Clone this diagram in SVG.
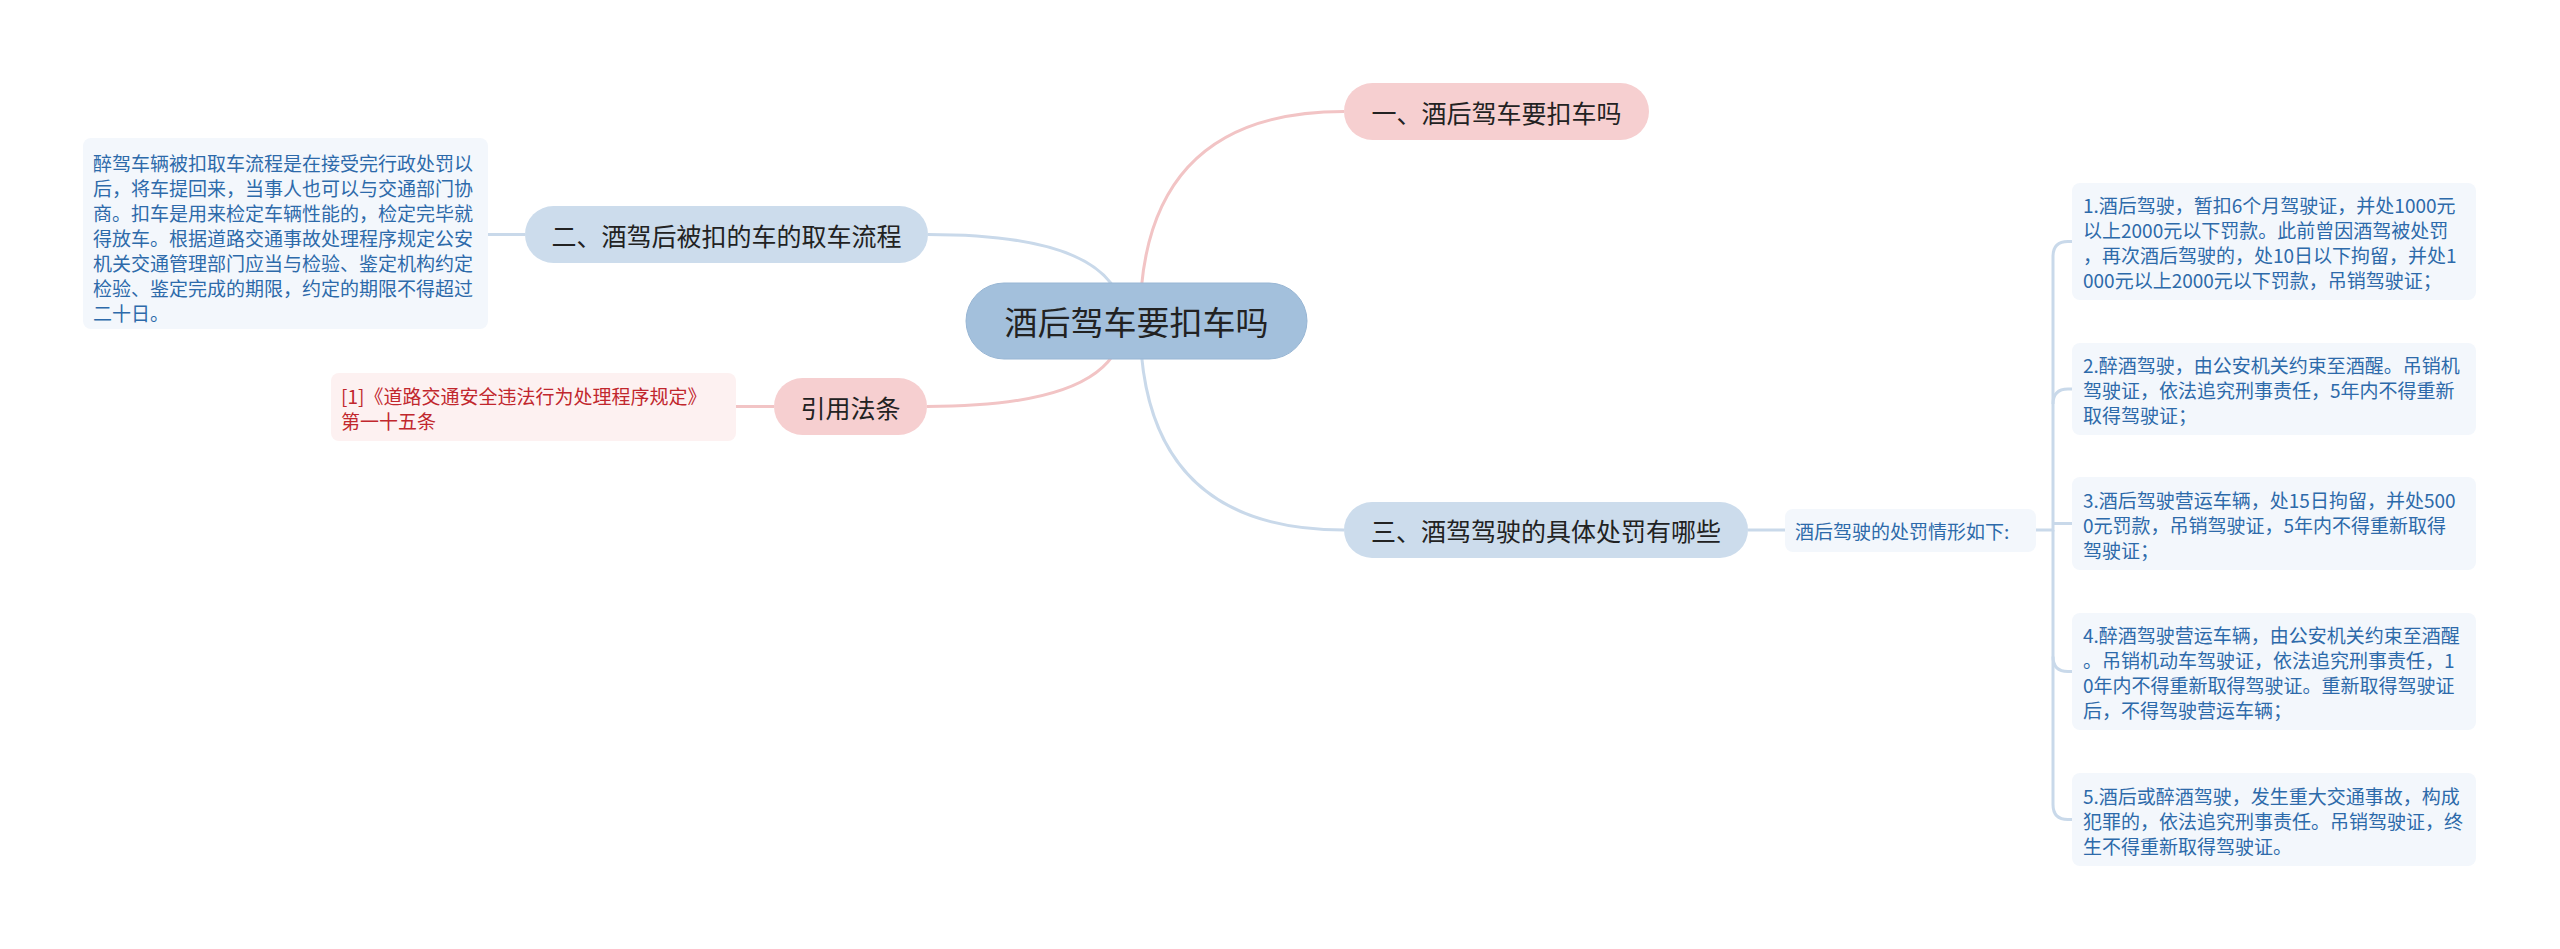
<svg xmlns="http://www.w3.org/2000/svg" width="2560" height="949" viewBox="0 0 2560 949">
<style>
text{font-family:"Noto Sans CJK SC","Noto Sans",sans-serif;dominant-baseline:central}
.node{font-size:25px;fill:#222;text-anchor:middle}
.root{font-size:33px;fill:#222;text-anchor:middle}
.leaf{font-size:19px;fill:#2d6aaa}
.red{font-size:19px;fill:#c1272d}
.lb{stroke:#c9d9ea;stroke-width:3;fill:none}
.lp{stroke:#f2c4c5;stroke-width:3;fill:none}
.fb{fill:#ccdcec}
.fp{fill:#f6cfd0}
.fl{fill:#f3f7fc}
.flp{fill:#fdf1f1}
</style>
<rect width="2560" height="949" fill="#ffffff"/>
<g id="connectors">
<path class="lp" d="M1140,321 Q1140,111.5 1344,111.5"/>
<path class="lb" d="M1123,321 Q1123,234.5 928,234.5"/>
<path class="lp" d="M1123,321 Q1123,406.5 927,406.5"/>
<path class="lb" d="M1140,321 Q1140,530 1344,530"/>
<path class="lb" d="M488,234.5 H525"/>
<path class="lp" d="M736,406.5 H774"/>
<path class="lb" d="M1748,530 H1785"/>
<path class="lb" d="M2036,530 H2053 V256.5 Q2053,241.5 2068,241.5 H2072"/>
<path class="lb" d="M2053,404 Q2053,389 2068,389 H2072"/>
<path class="lb" d="M2053,523.5 H2072"/>
<path class="lb" d="M2053,656.5 Q2053,671.5 2068,671.5 H2072"/>
<path class="lb" d="M2053,530 V804.5 Q2053,819.5 2068,819.5 H2072"/>
</g>
<g id="root">
<rect x="966" y="283" width="341" height="76" rx="38" fill="#a3c0dc" stroke="#98b6d4" stroke-width="1"/>
<text class="root" x="1136.5" y="321">酒后驾车要扣车吗</text>
</g>
<g id="n1">
<rect class="fp" x="1344" y="83" width="305" height="57" rx="28.5"/>
<text class="node" x="1496.5" y="111.5">一、酒后驾车要扣车吗</text>
</g>
<g id="n2">
<rect class="fb" x="525" y="206" width="403" height="57" rx="28.5"/>
<text class="node" x="726.5" y="234.5">二、酒驾后被扣的车的取车流程</text>
</g>
<g id="n2leaf">
<rect class="fl" x="83" y="138" width="405" height="191" rx="8"/>
<text class="leaf" x="93" y="162">醉驾车辆被扣取车流程是在接受完行政处罚以</text>
<text class="leaf" x="93" y="187">后，将车提回来，当事人也可以与交通部门协</text>
<text class="leaf" x="93" y="212">商。扣车是用来检定车辆性能的，检定完毕就</text>
<text class="leaf" x="93" y="237">得放车。根据道路交通事故处理程序规定公安</text>
<text class="leaf" x="93" y="262">机关交通管理部门应当与检验、鉴定机构约定</text>
<text class="leaf" x="93" y="287">检验、鉴定完成的期限，约定的期限不得超过</text>
<text class="leaf" x="93" y="312">二十日。</text>
</g>
<g id="ref">
<rect class="fp" x="774" y="378" width="153" height="57" rx="28.5"/>
<text class="node" x="850.5" y="406.5">引用法条</text>
</g>
<g id="refleaf">
<rect class="flp" x="331" y="373" width="405" height="68" rx="8"/>
<text class="red" x="341" y="395">[1]《道路交通安全违法行为处理程序规定》</text>
<text class="red" x="341" y="420">第一十五条</text>
</g>
<g id="n3">
<rect class="fb" x="1344" y="502" width="404" height="56" rx="28"/>
<text class="node" x="1546" y="530">三、酒驾驾驶的具体处罚有哪些</text>
</g>
<g id="n3mid">
<rect class="fl" x="1785" y="509" width="251" height="43" rx="8"/>
<text class="leaf" x="1795" y="530.5">酒后驾驶的处罚情形如下:</text>
</g>
<g id="p1">
<rect class="fl" x="2072" y="183" width="404" height="117" rx="8"/>
<text class="leaf" x="2083" y="204">1.酒后驾驶，暂扣6个月驾驶证，并处1000元</text>
<text class="leaf" x="2083" y="229">以上2000元以下罚款。此前曾因酒驾被处罚</text>
<text class="leaf" x="2083" y="254">，再次酒后驾驶的，处10日以下拘留，并处1</text>
<text class="leaf" x="2083" y="279">000元以上2000元以下罚款，吊销驾驶证；</text>
</g>
<g id="p2">
<rect class="fl" x="2072" y="343" width="404" height="92" rx="8"/>
<text class="leaf" x="2083" y="364">2.醉酒驾驶，由公安机关约束至酒醒。吊销机</text>
<text class="leaf" x="2083" y="389">驾驶证，依法追究刑事责任，5年内不得重新</text>
<text class="leaf" x="2083" y="414">取得驾驶证；</text>
</g>
<g id="p3">
<rect class="fl" x="2072" y="477" width="404" height="93" rx="8"/>
<text class="leaf" x="2083" y="499">3.酒后驾驶营运车辆，处15日拘留，并处500</text>
<text class="leaf" x="2083" y="524">0元罚款，吊销驾驶证，5年内不得重新取得</text>
<text class="leaf" x="2083" y="549">驾驶证；</text>
</g>
<g id="p4">
<rect class="fl" x="2072" y="613" width="404" height="117" rx="8"/>
<text class="leaf" x="2083" y="634">4.醉酒驾驶营运车辆，由公安机关约束至酒醒</text>
<text class="leaf" x="2083" y="659">。吊销机动车驾驶证，依法追究刑事责任，1</text>
<text class="leaf" x="2083" y="684">0年内不得重新取得驾驶证。重新取得驾驶证</text>
<text class="leaf" x="2083" y="709">后，不得驾驶营运车辆；</text>
</g>
<g id="p5">
<rect class="fl" x="2072" y="773" width="404" height="93" rx="8"/>
<text class="leaf" x="2083" y="795">5.酒后或醉酒驾驶，发生重大交通事故，构成</text>
<text class="leaf" x="2083" y="820">犯罪的，依法追究刑事责任。吊销驾驶证，终</text>
<text class="leaf" x="2083" y="845">生不得重新取得驾驶证。</text>
</g>
</svg>
